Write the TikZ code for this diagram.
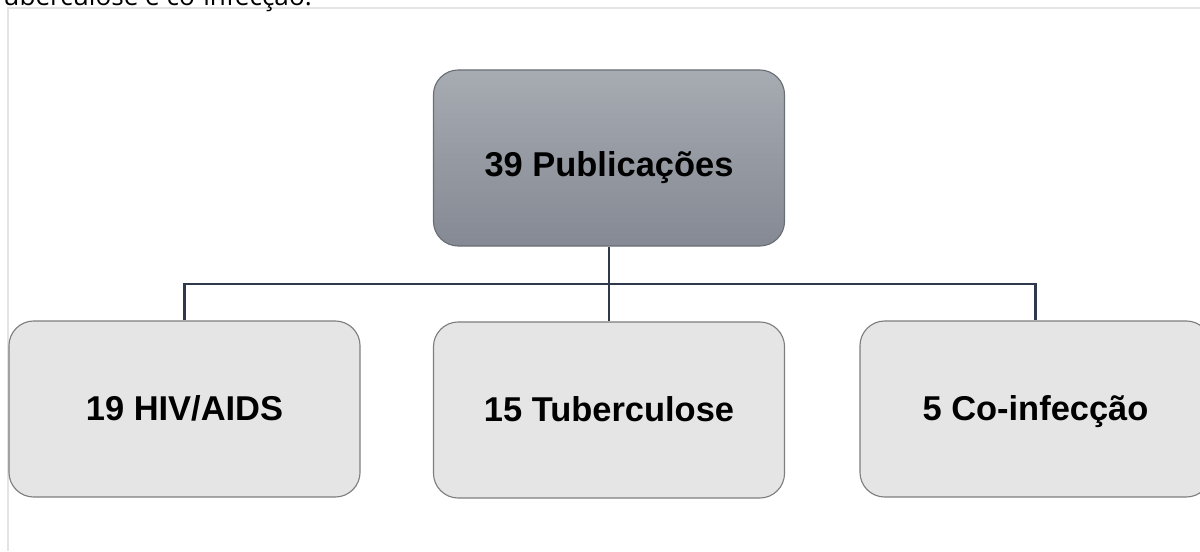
\documentclass[tikz,border=0pt]{standalone}
\usepackage{fontspec}
\setmainfont{Liberation Sans}
\newfontfamily\captionfont{Open Sans}
\usetikzlibrary{positioning}

\definecolor{roottop}{HTML}{A7ABB2}
\definecolor{rootbot}{HTML}{848993}
\definecolor{rootline}{HTML}{6A6E75}
\definecolor{boxfill}{HTML}{E5E5E5}
\definecolor{boxline}{HTML}{7E7E7E}
\definecolor{linkcol}{HTML}{2E3A4B}
\definecolor{framecol}{HTML}{E4E4E4}

\begin{document}
\begin{tikzpicture}[x=0.025cm, y=-0.025cm,
    box/.style={draw=boxline, line width=0.8pt, fill=boxfill, rounded corners=0.62cm,
        minimum width=8.775cm, minimum height=4.4cm, inner sep=0pt,
        text height=18pt, text depth=2pt,
        font=\fontsize{24.5}{29}\selectfont\bfseries},
    root/.style={box, draw=rootline, top color=roottop, bottom color=rootbot,
        text height=26pt, text depth=0pt},
    link/.style={draw=linkcol, line width=1.9pt}]
    \useasboundingbox (0,0) rectangle (1200,551);
    \clip (0,0) rectangle (1200,551);
    % page frame and the cut caption above it
    \draw[framecol, line width=1.2pt] (8,551) -- (8,8) -- (1200,8);
    \node[anchor=base west, inner sep=0pt, font=\captionfont\fontsize{18.6}{22}\selectfont] (caption) at (-10,6) {Tuberculose e co-infecção.};
    % boxes
    \node[root] (pub) at (609,158) {39 Publicações};
    \node[box] (hiv) at (184.5,409) {19 HIV/AIDS};
    \node[box] (tb) at (609,410) {15 Tuberculose};
    \node[box] (co) at (1035.5,409) {5 Co-infecção};
    % connectors
    \coordinate (bus) at (609,284);
    \draw[link] (pub) -- (bus);
    \foreach \b in {hiv,tb,co}
        \draw[link] (bus) -| (\b);
\end{tikzpicture}
\end{document}
